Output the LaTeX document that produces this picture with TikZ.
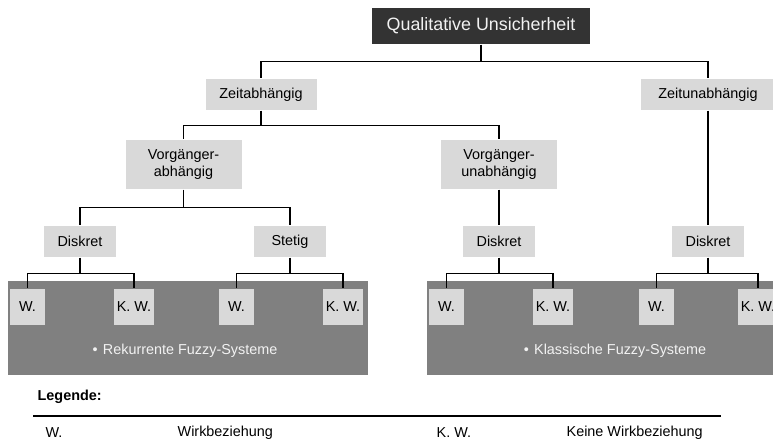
\documentclass[tikz,border=0pt]{standalone}
\usepackage{fontspec}
\setmainfont{Liberation Sans}
\definecolor{boxgray}{HTML}{D9D9D9}
\definecolor{panelgray}{HTML}{808080}
\definecolor{titlegray}{HTML}{333333}
\definecolor{lighttext}{HTML}{F2F2F2}
\begin{document}
\begin{tikzpicture}[x=.75pt, y=-.75pt, line width=1pt,
  every node/.style={font=\fontsize{10.8}{12.8}\selectfont, inner sep=0pt},
  catbox/.style={fill=boxgray, minimum height=23.25pt, align=center},
  leafbox/.style={fill=boxgray, minimum height=27pt}]
  \useasboundingbox (0,0) rectangle (773,439);
  % grey panels behind the leaves
  \fill[panelgray] (8,281) rectangle (368,375);
  \fill[panelgray] (427,281) rectangle (790,375);
  \node[fill=titlegray, text=lighttext, minimum width=163.5pt, minimum height=27pt,
    font=\fontsize{13.4}{16}\selectfont] (top) at (481,26) {Qualitative Unsicherheit};
  \node[catbox, minimum width=83.25pt] (zab) at (261,94.5) {Zeitabhängig};
  \node[catbox, minimum width=100.5pt] (zun) at (708,94.5) {Zeitunabhängig};
  \node[catbox, minimum width=87pt, minimum height=36.75pt] (vab) at (183.5,164.5) {Vorgänger-\\abhängig};
  \node[catbox, minimum width=87pt, minimum height=36.75pt] (vun) at (499,164.5) {Vorgänger-\\unabhängig};
  \foreach \n/\t/\x in {dis1/Diskret/80, stet/Stetig/290, dis2/Diskret/499, dis3/Diskret/708}
    \node[catbox, minimum width=54pt] (\n) at (\x,241.5) {\t};
  \foreach \i/\x in {1/27.5, 2/236.5, 3/446.5, 4/656.5}
    \node[leafbox, minimum width=26.25pt] (w\i) at (\x,307) {W.};
  \foreach \i/\x in {1/134, 2/343, 3/553, 4/758}
    \node[leafbox, minimum width=30pt] (k\i) at (\x,307) {K. W.};
  \draw (top.south) -- +(0,17) -| (zab.north) (top.south) -- +(0,17) -| (zun.north);
  \foreach \p/\a/\b/\d in {zab/vab/vun/15, vab/dis1/stet/18, dis1/w1/k1/16,
    stet/w2/k2/16, dis2/w3/k3/16, dis3/w4/k4/16}
    \draw (\p.south) -- +(0,\d) -| (\a.north) (\p.south) -- +(0,\d) -| (\b.north);
  \draw (vun) -- (dis2);
  \draw (zun) -- (dis3);
  \node[text=lighttext] (rek) at (185,351) {•\hspace{4pt}Rekurrente Fuzzy-Systeme};
  \node[text=lighttext] (kla) at (615,351) {•\hspace{4pt}Klassische Fuzzy-Systeme};
  % legend
  \node[anchor=west] (leg) at (37,397) {\textbf{Legende:}};
  \draw[line width=1.6pt] (33,416) -- (721,416);
  \foreach \t/\x [count=\i] in {W./45, Wirkbeziehung/177, K. W./436, Keine Wirkbeziehung/566}
    \node[anchor=west] (leg\i) at (\x,433) {\t};
\end{tikzpicture}
\end{document}
